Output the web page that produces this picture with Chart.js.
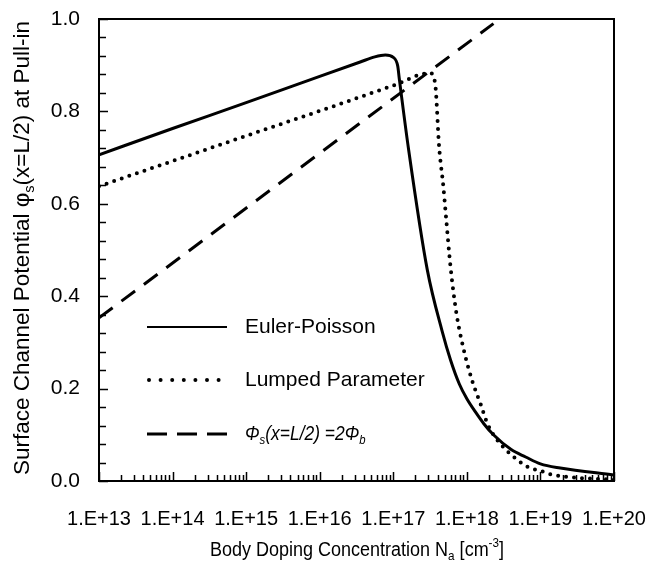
<!DOCTYPE html>
<html lang="en">
<head>
<meta charset="UTF-8">
<title>Surface channel potential at pull-in</title>
<script src="https://cdn.jsdelivr.net/npm/chart.js"></script>
<style>
  body { margin: 0; background: #fff; }
</style>
</head>
<body>
<canvas id="myChart" width="652" height="571"></canvas>
<script>
// Euler-Poisson (solid)
const naSolid  = [1e13, 1e14, 1e15, 1e16, 3.55e16, 5.6e16, 7.8e16,
                  1.0e17, 1.15e17, 1.2e17, 1.62e17, 2.9e17, 4.6e17, 6.0e17, 7.9e17, 1.0e18,
                  1.3e18, 1.7e18, 2.3e18, 4.0e18, 6.3e18, 1e19, 1.86e19, 1e20];
const phiSolid = [0.706, 0.763, 0.819, 0.876, 0.907, 0.918, 0.922,
                  0.917, 0.898, 0.874, 0.716, 0.457, 0.325, 0.262, 0.210, 0.178,
                  0.150, 0.124, 0.100, 0.068, 0.052, 0.037, 0.028, 0.013];

// Lumped parameter (dotted)
const naDot  = [1e13, 1e15, 1e16, 1e17, 3.16e17, 3.7e17, 4.2e17, 4.8e17, 5.25e17, 6.0e17, 7.2e17,
                8.9e17, 1.17e18, 1.55e18, 1.86e18, 2.3e18, 3.1e18, 4.5e18, 6.8e18, 1e19, 1.35e19,
                3.2e19, 1e20];
const phiDot = [0.638, 0.747, 0.801, 0.856, 0.883, 0.861, 0.723, 0.636, 0.565, 0.463, 0.364,
                0.290, 0.219, 0.165, 0.128, 0.100, 0.074, 0.050, 0.030, 0.022, 0.015,
                0.007, 0.003];

// phi_s = 2 phi_b (dashed)
const naDash  = [1e13, 2.3e18];
const phiDash = [0.353, 0.990];

const xTicks = [1e13, 1e14, 1e15, 1e16, 1e17, 1e18, 1e19, 1e20];
const legendNames = ['Euler-Poisson', 'Lumped Parameter'];

const FONT = "'Liberation Sans', Arial, sans-serif";

function pts(xs, ys) {
  return xs.map((x, i) => ({ x: x, y: ys[i] }));
}

// text made of pieces [text, kind], kind is '', 'sub' or 'sup'
function richWidth(ctx, parts, size, style) {
  let w = 0;
  parts.forEach(p => {
    const s = p[1] ? size * 0.65 : size;
    ctx.font = style + ' ' + s + 'px ' + FONT;
    w += ctx.measureText(p[0]).width;
  });
  return w;
}
function richText(ctx, parts, x, y, size, style) {
  parts.forEach(p => {
    const s = p[1] ? size * 0.65 : size;
    ctx.font = style + ' ' + s + 'px ' + FONT;
    let dy = 0;
    if (p[1] === 'sub') dy = size * 0.3;
    if (p[1] === 'sup') dy = -size * 0.35;
    ctx.fillText(p[0], x, y + dy);
    x += ctx.measureText(p[0]).width;
  });
}

const decor = {
  id: 'decor',
  afterDraw(chart) {
    const ctx = chart.ctx;
    const a = chart.chartArea;
    const xs = chart.scales.x, ys = chart.scales.y;
    ctx.save();
    ctx.strokeStyle = '#000';
    ctx.fillStyle = '#000';

    // frame top / right
    ctx.lineWidth = 2;
    ctx.beginPath();
    ctx.moveTo(a.left, a.top); ctx.lineTo(a.right, a.top); ctx.lineTo(a.right, a.bottom);
    ctx.stroke();

    // inward ticks
    ctx.lineWidth = 1.5;
    ctx.beginPath();
    for (let k = 0; k <= 25; k++) {
      const py = Math.round(ys.getPixelForValue(k * 0.04)) + 0.5;
      const len = (k % 5 === 0) ? 9 : 7;
      ctx.moveTo(a.left, py); ctx.lineTo(a.left + len, py);
    }
    for (let e = 13; e < 20; e++) {
      for (let m = 1; m <= 9; m++) {
        const px = Math.round(xs.getPixelForValue(m * Math.pow(10, e))) + 0.5;
        const len = (m === 1) ? 9 : 6;
        ctx.moveTo(px, a.bottom); ctx.lineTo(px, a.bottom - len);
      }
    }
    const pEnd = Math.round(xs.getPixelForValue(1e20)) + 0.5;
    ctx.moveTo(pEnd, a.bottom); ctx.lineTo(pEnd, a.bottom - 9);
    ctx.stroke();

    // legend
    const lx0 = 147, lx1 = 227, tx = 245;
    const rows = [327, 380, 434];
    ctx.lineWidth = 2;
    ctx.setLineDash([]);
    ctx.beginPath(); ctx.moveTo(lx0, rows[0]); ctx.lineTo(lx1, rows[0]); ctx.stroke();
    ctx.lineWidth = 4; ctx.lineCap = 'round'; ctx.setLineDash([0, 11.6]);
    ctx.beginPath(); ctx.moveTo(lx0 + 2, rows[1]); ctx.lineTo(lx1, rows[1]); ctx.stroke();
    ctx.lineWidth = 3; ctx.lineCap = 'butt'; ctx.setLineDash([20, 10]);
    ctx.beginPath(); ctx.moveTo(lx0, rows[2]); ctx.lineTo(lx1 + 2, rows[2]); ctx.stroke();
    ctx.setLineDash([]);

    ctx.textBaseline = 'middle';
    ctx.textAlign = 'left';
    ctx.font = '21px ' + FONT;
    ctx.fillText(legendNames[0], tx, rows[0]);
    ctx.fillText(legendNames[1], tx, rows[1]);
    ctx.save();
    ctx.translate(tx, rows[2]);
    ctx.scale(0.83, 1);
    richText(ctx, [['\u03A6', ''], ['s', 'sub'], ['(x=L/2) =2\u03A6', ''], ['b', 'sub']], 0, 0, 21, 'italic');
    ctx.restore();

    // x title
    const xParts = [['Body Doping Concentration N', ''], ['a', 'sub'], [' [cm', ''], ['-3', 'sup'], [']', '']];
    const xw = richWidth(ctx, xParts, 20, '');
    ctx.save();
    ctx.translate(357, 550);
    ctx.scale(0.9, 1);
    richText(ctx, xParts, -xw / 2, 0, 20, '');
    ctx.restore();

    // y title
    const yParts = [['Surface Channel Potential \u03C6', ''], ['s', 'sub'], ['(x=L/2) at Pull-in', '']];
    const yw = richWidth(ctx, yParts, 22.5, '');
    ctx.translate(23, 248);
    ctx.rotate(-Math.PI / 2);
    richText(ctx, yParts, -yw / 2, 0, 22.5, '');
    ctx.restore();
  }
};

const ctx = document.getElementById('myChart').getContext('2d');
const myChart = new Chart(ctx, {
  type: 'line',
  data: {
    datasets: [{
      label: 'Euler-Poisson',
      data: pts(naSolid, phiSolid),
      borderColor: '#000',
      borderWidth: 3,
      pointRadius: 0,
      cubicInterpolationMode: 'monotone'
    }, {
      label: 'Lumped Parameter',
      data: pts(naDot, phiDot),
      borderColor: '#000',
      borderWidth: 4,
      borderCapStyle: 'round',
      borderDash: [0, 8],
      pointRadius: 0,
      cubicInterpolationMode: 'monotone'
    }, {
      label: '2phi_b',
      data: pts(naDash, phiDash),
      borderColor: '#000',
      borderWidth: 3,
      borderDash: [17, 11],
      pointRadius: 0
    }]
  },
  options: {
    responsive: false,
    animation: false,
    layout: { padding: { top: 19, right: 38, left: 0, bottom: 0 } },
    plugins: { legend: { display: false }, tooltip: { enabled: false } },
    scales: {
      x: {
        type: 'logarithmic',
        min: 1e13,
        max: 1e20,
        afterBuildTicks: s => { s.ticks = xTicks.map(v => ({ value: v })); },
        afterFit: s => { s.height = 90; s.paddingLeft = 0; s.paddingRight = 0; },
        grid: { display: false, drawTicks: false },
        border: { display: true, color: '#000', width: 2 },
        ticks: {
          autoSkip: false,
          maxRotation: 0,
          padding: 26,
          color: '#000',
          font: { family: FONT, size: 20 },
          callback: v => '1.E+' + Math.round(Math.log10(v))
        }
      },
      y: {
        min: 0,
        max: 1,
        afterFit: s => { s.width = 99; s.paddingTop = 0; s.paddingBottom = 0; },
        grid: { display: false, drawTicks: false },
        border: { display: true, color: '#000', width: 2 },
        ticks: {
          stepSize: 0.2,
          padding: 19,
          color: '#000',
          font: { family: FONT, size: 21 },
          callback: v => v.toFixed(1)
        }
      }
    }
  },
  plugins: [decor]
});
</script>
</body>
</html>
